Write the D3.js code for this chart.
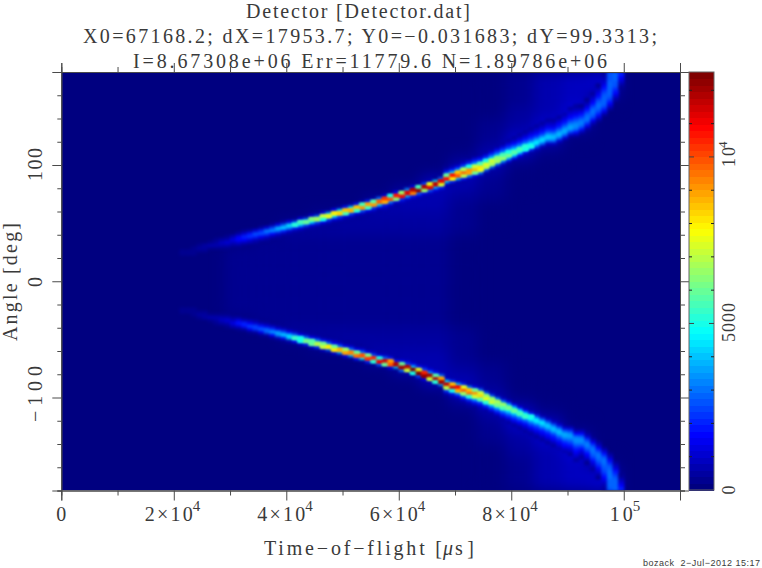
<!DOCTYPE html>
<html><head><meta charset="utf-8">
<script src="https://cdn.jsdelivr.net/npm/d3@7/dist/d3.min.js"></script>
<style>html,body{margin:0;padding:0;background:#fff}svg{display:block}
text{font-family:"Liberation Serif",serif;fill:#3a3a3a}
.tick line,.domain{stroke:#4a4a4a;stroke-width:1}
</style></head><body><div id="c"></div>
<script>
const titleLines = ["Detector [Detector.dat]", "X0=67168.2; dX=17953.7; Y0=\u22120.031683; dY=99.3313;", "I=8.67308e+06 Err=11779.6 N=1.89786e+06"];
const xLabel = "Time\u2212of\u2212flight [";
const yLabel = "Angle [deg]";
const footer = "bozack  2\u2212Jul\u22122012 15:17";
const xMajor = [0, 20000, 40000, 60000, 80000, 100000];
const xMinor = [10000, 30000, 50000, 70000, 90000, 110000];
const yMajor = [-100, 0, 100];
const yMinor = [-180, -160, -140, -120, -80, -60, -40, -20, 20, 40, 60, 80, 120, 140, 160, 180];
const cbMajor = [0, 5000, 10000];
const cbMinor = [1000, 2000, 3000, 4000, 6000, 7000, 8000, 9000, 11000, 12000];
const maxCount = 12550;
const ridgeFirstBin = 21;   // first time bin, in 1000 us
const ridgeBinWidth = 1000;
const angleBin = 2.5;
const countUnit = 100;
// each column: [first |angle| of the run, counts in hundreds going outward]
const upperRidge = [
[20,1,2,2,1],[20,1,2,3,1],[22.5,2,3,3,1],[22.5,1,3,4,2],[25,2,5,4,1],[25,1,3,6,3,1],[27.5,2,7,5,2],[27.5,3,7,9,4,1],[27.5,2,6,10,7,2],[30,4,9,12,6,1],
[30,5,11,17,15,4,1],[30,3,8,17,21,10,2],[32.5,6,13,23,19,5,1],[32.5,4,9,20,26,11,1],[35,6,14,27,21,4],[35,4,10,24,32,11,1],[37.5,6,16,34,25,4],[37.5,4,10,30,40,12,1],[40,7,20,44,28,5],[40,4,11,34,48,13,1],
[42.5,6,21,52,28,3],[42.5,4,12,42,55,12,1],[45,7,27,59,28,2],[45,4,13,47,63,10],[47.5,8,27,67,28,2],[47.5,4,14,50,72,12],[50,9,27,76,38,3],[50,5,12,48,80,17,1],[52.5,8,25,83,46,4],[52.5,4,13,55,85,18,1],
[55,9,26,88,48,4],[55,4,13,52,86,18,1],[57.5,9,28,92,55,5],[57.5,5,14,54,90,20,1],[60,8,24,92,58,5],[60,5,10,44,98,30,1],[62.5,8,20,87,102,11],[65,10,35,100,50,3],[65,5,13,64,107,17],[67.5,8,22,110,66,3],
[70,11,40,113,34,1],[70,6,18,94,118,12],[72.5,10,30,122,55,2],[75,14,65,118,24,1],[75,9,29,112,75,6],[77.5,12,41,116,46,3],[80,20,73,112,28,2],[82.5,8,45,108,60,22,8,3],[82.5,5,20,80,106,48,18,6],[85,7,40,100,85,36,14,4],
[85,4,18,70,98,68,30,12,4],[87.5,6,36,90,92,50,24,10,3],[90,14,60,88,72,40,20,8,3],[90,6,32,76,82,56,28,14,5],
[92.5,4,28,70,76,50,26,12,4],[95,5,30,68,72,48,26,12,4],[97.5,6,32,68,64,42,24,12,5],[100,8,36,65,56,36,22,11,4],[100,3,12,42,62,50,32,20,10,4],[102.5,3,14,46,58,44,28,17,9,4],
[105,4,16,48,56,38,25,15,8,4],[107.5,4,18,50,52,34,22,14,8,4],[110,5,22,50,47,31,21,14,8,4],[112.5,6,26,47,43,28,19,13,8,4],[115,7,28,45,40,27,18,13,8,4],[117.5,8,30,43,38,26,18,13,8,4],[117.5,9,30,41,37,26,18,13,8,4],[120,10,30,40,37,27,19,14,9,5],[122.5,10,28,38,36,28,20,15,10,6],[125,8,24,36,36,30,23,17,12,8,4],
[125,6,18,31,35,32,26,20,15,11,7,4],[127.5,6,18,29,33,31,25,18,12,7,3],[130,4,12,23,30,31,28,22,16,11,6,3],[135,6,14,24,29,30,28,23,17,12,8,4],[137.5,4,10,18,25,29,30,28,24,19,14,10,6,3],[142.5,5,12,20,26,29,29,28,26,23,19,15,11,8,6,5],[147.5,4,10,16,22,26,28,29,29,28,28,27,27,26],[155,4,9,14,19,23,26,27,28,28,28],[165,2,5,9,13,17,20]
];
const lowerRidge = [
[20,1,2,2,1],[20,1,2,3,1],[22.5,2,3,3,1],[22.5,1,3,4,2],[25,2,5,4,1],[25,1,3,6,3,1],[27.5,2,7,5,2],[27.5,3,7,9,4,1],[27.5,2,6,10,7,2],[30,4,9,12,6,1],
[30,5,12,19,11,2],[30,3,9,20,18,5],[32.5,6,15,25,14,2],[32.5,4,10,24,22,5],[35,7,18,29,14,2],[35,4,12,29,28,5],[37.5,8,22,37,16,2],[37.5,4,13,36,34,6],[40,9,27,45,18,2],[40,5,14,42,44,7],
[42.5,9,30,54,18,1],[42.5,5,15,50,50,8],[45,9,34,61,20,1],[45,5,17,58,60,9],[47.5,10,36,70,22,1],[47.5,5,18,62,72,9],[50,10,34,80,28,2],[50,6,16,60,82,12],[52.5,10,32,88,36,2],[52.5,5,16,66,90,14],
[55,10,32,94,40,2],[55,5,15,60,96,18],[57.5,10,32,100,48,3],[57.5,5,14,62,102,20],[60,9,26,104,52,3],[60,5,12,50,110,26],[62.5,9,30,114,60,3],[65,18,90,100,14],[65,5,18,118,42,3],[67.5,12,60,120,30,1],
[67.5,8,25,118,72,6],[70,13,44,125,50,3],[72.5,19,76,124,25,1],[72.5,10,27,105,122,12],[75,12,36,120,72,6],[77.5,18,58,118,52,4],[80,30,90,120,36,2],[82.5,9,46,116,70,26,9,3],[85,23,85,114,50,20,7],[85,8,42,110,88,38,15,5],
[87.5,20,75,99,66,32,13,4],[87.5,5,34,85,96,52,26,11,4],[90,15,60,92,72,42,21,9,3],[90,6,30,72,84,58,30,15,6],
[92.5,5,30,66,78,52,28,13,4],[95,6,28,66,72,48,27,13,5],[97.5,7,34,68,62,42,25,13,5],[100,9,35,65,55,37,23,12,5],[102.5,12,42,62,49,33,21,11,5],[102.5,3,15,44,59,45,29,18,10,4],
[105,4,15,46,56,39,26,16,9,4],[107.5,5,17,48,54,35,23,15,9,4],[110,5,21,50,48,32,22,15,9,4],[112.5,6,25,47,44,29,20,14,9,5],[115,7,27,46,41,28,19,14,9,5],[117.5,8,28,43,39,27,19,14,9,5],[120,9,29,41,38,27,19,14,9,5],[122.5,10,29,40,38,28,20,15,10,6],[125,10,27,38,37,29,21,16,11,7],[125,8,23,35,37,31,24,18,13,9,5],
[127.5,6,17,30,35,33,27,21,16,12,8,4],[127.5,6,17,29,34,32,26,19,13,8,4],[130,4,11,22,30,32,29,23,17,12,7,3],[135,6,14,24,30,31,29,24,18,13,8,4],[137.5,4,9,17,25,30,31,29,25,20,15,11,7,3],[142.5,5,11,19,26,30,30,29,27,24,20,16,12,9,7,5],[147.5,4,9,15,21,26,29,30,30,30,29,28,28,27],[155,4,8,13,18,23,26,28,29,29,29],[165,2,5,8,12,16,20]
];
// low diffuse signal: columns of 5000 us, runs of 10 degree bins [first angle, counts in hundreds going up]
const diffuseFirstBin = [29, 34, 39, 44, 49, 54, 59, 64, 69, 74, 79, 84, 89, 94];
const diffuseWidth = 5000;
const diffuseAngleBin = 10;
const diffuse = [
[-30,3,2,2,2,2,3],
[-40,3,2,2,2,2,2,2,3],
[-50,4,3,2,2,2,2,2,2,3,4],
[-60,2,4,3,2,2,2,2,2,2,3,4,2],
[-60,5,4,3,3,2,2,2,2,3,3,4,5],
[-70,6,5,4,3,3,2,2,2,2,3,3,4,5,6],
[-80,7,6,5,4,3,3,2,2,2,2,3,3,4,5,6,7],
[-90,8,7,6,5,4,3,2,2,2,2,2,2,3,4,5,6,7,8],
[-110,3,8,6,4,3,2,2,1,1,1,1,1,1,1,1,2,2,3,4,6,8,3],
[-180,1,1,1,1,2,3,5,9,5,3,2,1,1,0,0,0,0,0,0,0,0,0,0,1,1,2,3,5,9,5,3,2,1,1,1,1],
[-180,3,3,3,4,5,8,12,3,1,1,0,0,0,0,0,0,0,0,0,0,0,0,0,0,0,0,1,1,3,12,8,5,4,3,3,3],
[-180,6,6,6,7,10,10,2,1,0,0,0,0,0,0,0,0,0,0,0,0,0,0,0,0,0,0,0,0,1,2,10,10,7,6,6,6],
[-180,8,8,9,13,7,1,0,0,0,0,0,0,0,0,0,0,0,0,0,0,0,0,0,0,0,0,0,0,0,0,1,7,13,9,8,8],
[-180,11,9,1,0,0,0,0,0,0,0,0,0,0,0,0,0,0,0,0,0,0,0,0,0,0,0,0,0,0,0,0,0,0,1,9,11]
];

const W = 762, H = 568;
const svg = d3.select("#c").append("svg").attr("width", W).attr("height", H);
const x = d3.scaleLinear().domain([0, 110000]).range([61.3, 680]);
const y = d3.scaleLinear().domain([-180, 180]).range([490.5, 72]);
const cbY = d3.scaleLinear().domain([0, maxCount]).range([490, 72]);
const jet = d3.scaleLinear().domain([0, .125, .375, .625, .875, 1])
  .range(["#000080", "#0000ff", "#00ffff", "#ffff00", "#ff0000", "#800000"]);
const levels = d3.range(64).map(i => jet(i / 63));
const color = d3.scaleQuantize().domain([0, maxCount]).range(levels);

function label(t, o) {
  const e = svg.append("text").attr("x", o.x).attr("y", o.y).attr("font-size", o.size || 20)
    .attr("text-anchor", o.anchor || "start").text(t).style("white-space", "pre");
  if (o.len) e.attr("textLength", o.len).attr("lengthAdjust", "spacing");
  if (o.rot) e.attr("transform", `rotate(-90 ${o.x} ${o.y})`);
  return e;
}
label(titleLines[0], {x: 246, y: 17.5, len: 224});
label(titleLines[1], {x: 83, y: 42.5, len: 574});
label(titleLines[2], {x: 133, y: 68, len: 474});

// image
const defs = svg.append("defs");
defs.append("clipPath").attr("id", "plot").append("rect")
  .attr("x", x(0)).attr("y", y(180)).attr("width", x(110000) - x(0)).attr("height", y(-180) - y(180));
function softFilter(id, dev) {
  defs.append("filter").attr("id", id).attr("filterUnits", "userSpaceOnUse")
    .attr("x", 0).attr("y", 0).attr("width", W).attr("height", H)
    .attr("color-interpolation-filters", "sRGB")
    .append("feGaussianBlur").attr("stdDeviation", dev);
}
softFilter("wide", 7);
softFilter("fine", 1.8);
softFilter("core", 0.8);

const plot = svg.append("g").attr("clip-path", "url(#plot)");
plot.append("rect").attr("x", x(0)).attr("y", y(180)).attr("width", x(110000) - x(0))
  .attr("height", y(-180) - y(180)).attr("fill", color(0));

const diffuseCells = diffuse.flatMap((col, i) => col.slice(1).map((v, j) => ({
  t: diffuseFirstBin[i] * 1000, a: col[0] + j * diffuseAngleBin, v: v * countUnit
}))).filter(d => d.v > 0);
plot.append("g").attr("filter", "url(#wide)").selectAll("rect").data(diffuseCells).join("rect")
  .attr("x", d => x(d.t)).attr("width", d => x(d.t + diffuseWidth) - x(d.t))
  .attr("y", d => y(d.a + diffuseAngleBin)).attr("height", d => y(d.a) - y(d.a + diffuseAngleBin))
  .attr("fill", d => color(d.v));

const ridgeCells = (cols, sign) => cols.flatMap((col, i) => col.slice(1).map((v, j) => {
  const a0 = col[0] + j * angleBin, a1 = a0 + angleBin;
  return {t: (ridgeFirstBin + i) * ridgeBinWidth, lo: sign > 0 ? a0 : -a1, hi: sign > 0 ? a1 : -a0, v: v * countUnit};
}));
const allRidge = ridgeCells(upperRidge, 1).concat(ridgeCells(lowerRidge, -1)).filter(d => d.v >= 200);
function drawCells(g, cells) {
  g.selectAll("rect").data(cells).join("rect")
    .attr("x", d => x(d.t)).attr("width", d => x(d.t + ridgeBinWidth) - x(d.t) + .5)
    .attr("y", d => y(d.hi)).attr("height", d => y(d.lo) - y(d.hi) + .5)
    .attr("fill", d => color(d.v));
}
drawCells(plot.append("g").attr("filter", "url(#fine)"), allRidge);
drawCells(plot.append("g").attr("filter", "url(#core)"), allRidge.filter(d => d.v >= 5000));

// axes
function ax(gen, tr, vals, size) {
  svg.append("g").attr("transform", tr).call(gen.tickValues(vals).tickSize(size).tickFormat(""));
}
const t0 = `translate(0,${y(-180)})`, t1 = `translate(0,${y(180)})`, l0 = `translate(${x(0)},0)`, r0 = `translate(${x(110000)},0)`;
ax(d3.axisBottom(x).tickSizeOuter(0), t0, xMinor, 5);
ax(d3.axisBottom(x).tickSizeOuter(0), t0, xMajor, 10);
ax(d3.axisTop(x).tickSizeOuter(0), t1, xMinor, 5);
ax(d3.axisTop(x).tickSizeOuter(0), t1, xMajor, 9);
ax(d3.axisLeft(y).tickSizeOuter(0), l0, yMinor, 4);
ax(d3.axisLeft(y).tickSizeOuter(0), l0, yMajor, 9);
ax(d3.axisRight(y).tickSizeOuter(0), r0, yMinor, 5);
ax(d3.axisRight(y).tickSizeOuter(0), r0, yMajor, 9);
svg.selectAll(".tick text").remove();

// x tick labels
const xBase = 521;
label("0", {x: x(0), y: xBase, anchor: "middle"});
xMajor.slice(1, -1).forEach(v => {
  label(`${v / 10000}\u00d710`, {x: x(v) - 29, y: xBase, len: 48});
  label("4", {x: x(v) + 19, y: 511, size: 15});
});
label("10", {x: x(100000) - 14, y: xBase, len: 23});
label("5", {x: x(100000) + 9, y: 511, size: 15});

// y tick labels
label("100", {x: 42, y: 181, len: 33, rot: true});
label("0", {x: 42, y: 287, rot: true});
label("\u2212100", {x: 42, y: 422, len: 56, rot: true});

// titles
label(xLabel, {x: 264, y: 555, len: 178});
label("\u03bc", {x: 443, y: 555}).style("font-style", "italic");
label("s]", {x: 455, y: 555, len: 19});
label(yLabel, {x: 17, y: 341, len: 118, rot: true});
label(footer, {x: 643, y: 566, size: 9, len: 117}).style("font-family", '"Liberation Sans",sans-serif');

// colour bar
svg.append("g").attr("shape-rendering", "crispEdges").selectAll("rect").data(levels).join("rect")
  .attr("x", 689).attr("width", 25)
  .attr("y", (d, i) => cbY((i + 1) / 64 * maxCount)).attr("height", (cbY(0) - cbY(maxCount)) / 64 + .5)
  .attr("fill", d => d);
svg.append("rect").attr("x", 689).attr("y", cbY(maxCount)).attr("width", 25).attr("height", cbY(0) - cbY(maxCount))
  .attr("fill", "none").attr("stroke", "#666");
const cbG = svg.append("g");
[[cbMinor, 3, "#222"], [cbMajor.slice(1), 5, "#444"]].forEach(([vals, len, c]) => {
  [[689, 1], [714, -1]].forEach(([x0, s]) => {
    cbG.append("g").selectAll("line").data(vals).join("line")
      .attr("x1", x0).attr("x2", x0 + s * len).attr("y1", d => cbY(d)).attr("y2", d => cbY(d)).attr("stroke", c);
  });
});
label("10", {x: 735, y: 167, len: 20, size: 18, rot: true});
label("4", {x: 727, y: 148, size: 13, rot: true});
label("5000", {x: 735, y: 342, len: 39, size: 18, rot: true});
label("0", {x: 735, y: 494.5, size: 18, rot: true});
</script></body></html>
